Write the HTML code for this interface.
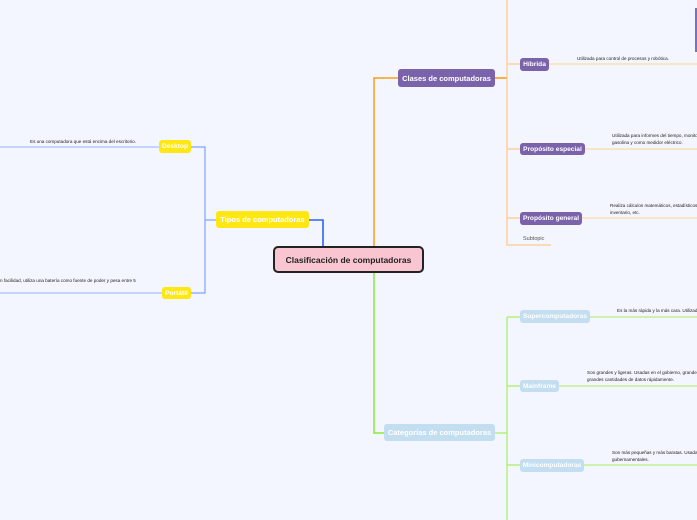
<!DOCTYPE html>
<html><head><meta charset="utf-8"><style>
body{margin:0;width:697px;height:520px;background:#f3f6fe;position:relative;overflow:hidden;font-family:"Liberation Sans",sans-serif}
.n{position:absolute;box-sizing:border-box;border-radius:3px;color:#fff;font-weight:bold;font-size:7.5px;display:flex;align-items:center;justify-content:center;white-space:nowrap}
.s{font-size:6.6px}
.y{background:#ffe714}
.p{background:#7b63ac}
.b{background:#c3def1}
.t{position:absolute;font-size:4.6px;color:#222;white-space:nowrap;line-height:6.5px}
svg{position:absolute;left:0;top:0}
</style></head><body>
<svg width="697" height="520">
<g fill="none" stroke-width="1.2">
<path d="M191 147H205V293H191M205 220H216" stroke="#7fa3ff"/>
<path d="M309 220H323V246" stroke="#2e63f0" stroke-width="1.6"/>
<path d="M0 147H159M0 293H162" stroke="#a9c0ff"/>
<path d="M374 246V78H398" stroke="#ff9b1a" stroke-width="1.5"/>
<path d="M495 78H507" stroke="#ff9b1a" stroke-width="1.6"/>
<path d="M507 0V245H551M507 64H520M507 149H520M507 218H520" stroke="#ffc985"/>
<path d="M549 64H697M585 149H697M582 218H697" stroke="#ffd9a8"/>
<path d="M374 273V433H384" stroke="#8de83a" stroke-width="1.5"/>
<path d="M495 433H507M507 317V520M507 317H520M507 386H520M507 465H520" stroke="#a7ef5e"/>
<path d="M590 317H697M559 386H697M584 465H697" stroke="#b8f07e"/>
</g>
<rect x="695" y="8" width="2" height="44" fill="#7a6fc8"/>
</svg>
<div class="n" style="left:273px;top:246px;width:151px;height:27px;background:#f9c5d1;border:2px solid #222;border-radius:5px;color:#222;font-size:8.5px">Clasificación de computadoras</div>
<div class="n y" style="left:216px;top:211px;width:93px;height:17px">Tipos de computadoras</div>
<div class="n y s" style="left:159px;top:140px;width:32px;height:13px">Desktop</div>
<div class="n y s" style="left:162px;top:287px;width:29px;height:12px">Portátil</div>
<div class="t" style="left:30px;top:139px">Es una computadora que está encima del escritorio.</div>
<div class="t" style="left:0;top:278px">n facilidad, utiliza una batería como fuente de poder y pesa entre 5</div>
<div class="n p" style="left:398px;top:69px;width:97px;height:18px">Clases de computadoras</div>
<div class="n p s" style="left:520px;top:58px;width:29px;height:13px">Híbrida</div>
<div class="n p s" style="left:520px;top:143px;width:65px;height:12px">Propósito especial</div>
<div class="n p s" style="left:520px;top:212px;width:62px;height:13px">Propósito general</div>
<div class="t" style="left:523px;top:236px;font-size:5.5px;color:#555">Subtopic</div>
<div class="t" style="left:577px;top:56px">Utilizada para control de procesos y robótica.</div>
<div class="t" style="left:612px;top:133px">Utilizada para informes del tiempo, monito<br>gasolina y como medidor eléctrico.</div>
<div class="t" style="left:610px;top:203px">Realiza cálculos matemáticos, estadísticos, c<br>inventario, etc.</div>
<div class="n b" style="left:384px;top:424px;width:111px;height:17px">Categorías de computadoras</div>
<div class="n b s" style="left:520px;top:310px;width:70px;height:13px">Supercomputadoras</div>
<div class="n b s" style="left:520px;top:380px;width:39px;height:12px">Mainframe</div>
<div class="n b s" style="left:520px;top:459px;width:64px;height:13px">Minicomputadoras</div>
<div class="t" style="left:617px;top:308px">Es la más rápida y la más cara. Utilizada</div>
<div class="t" style="left:587px;top:370px">Son grandes y ligeras. Usadas en el gobierno, grandes<br>grandes cantidades de datos rápidamente.</div>
<div class="t" style="left:612px;top:450px">Son más pequeñas y más baratas. Usadas<br>gubernamentales.</div>
</body></html>
